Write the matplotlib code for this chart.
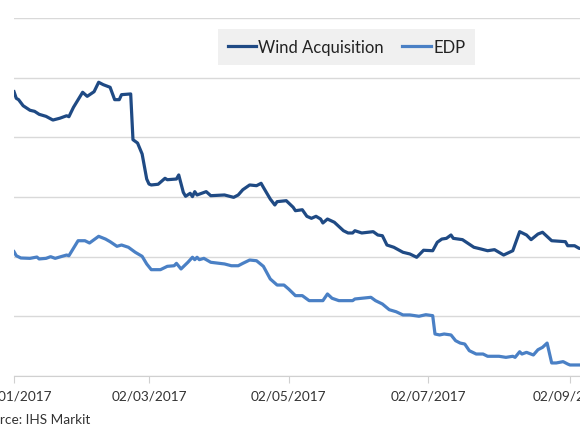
import pandas as pd
import numpy as np
import matplotlib.pyplot as plt
import matplotlib.dates as mdates

# days since 02/01/2017 (y scale arbitrary, labels cropped)
start = pd.Timestamp('2017-01-02')

wind_days = [0, 1, 2, 4, 7, 9, 11, 14, 17, 20, 23, 24, 26, 30, 32, 35, 37, 39, 42, 44,
             46, 47, 51, 52, 54, 56, 58, 59, 60, 63, 66, 67, 71, 72, 74, 75, 77, 78, 79, 80,
             84, 86, 92, 96, 98, 100, 103, 106, 108, 109, 112, 114, 115, 119, 122, 123, 126, 128, 130, 132,
             134, 135, 137, 140, 144, 146, 148, 149, 152, 157, 159, 161, 163, 166, 170, 173, 176, 179, 183, 185,
             187, 189, 191, 192, 196, 201, 204, 207, 210, 214, 218, 221, 224, 226, 229, 231, 235, 241, 242, 245,
             247, 252]
wind_vals = [103.84, 103.28, 103.17, 102.66, 102.28, 102.19, 101.94, 101.77, 101.46, 101.61,
             101.82, 101.74, 102.53, 103.79, 103.45, 103.84, 104.63, 104.43, 104.21, 103.17,
             103.17, 103.59, 103.65, 99.81, 99.53, 98.61, 96.51, 96.09, 96.01, 96.07,
             96.57, 96.45, 96.51, 96.85, 95.39, 95.06, 95.31, 95.03, 95.45, 95.17,
             95.45, 95.11, 95.17, 94.97, 95.17, 95.61, 96.01, 95.95, 96.15, 95.81,
             94.83, 94.33, 94.61, 94.69, 94.14, 93.85, 93.93, 93.38, 93.21, 93.38,
             93.15, 92.82, 93.15, 92.88, 92.17, 91.98, 91.98, 92.17, 91.98, 92.09,
             91.81, 91.75, 90.97, 90.78, 90.36, 90.22, 89.94, 90.53, 90.49, 91.20,
             91.47, 91.53, 91.81, 91.53, 91.42, 90.78, 90.64, 90.49, 90.58, 90.13,
             90.49, 92.09, 91.81, 91.42, 91.89, 92.04, 91.33, 91.25, 90.91, 90.91,
             90.69, 90.60]

edp_days = [0, 1, 3, 7, 10, 11, 14, 16, 18, 21, 23, 24, 28, 31, 33, 37, 40, 42, 45, 47,
            50, 53, 56, 58, 60, 64, 67, 70, 71, 73, 76, 78, 79, 80, 81, 83, 86, 92, 95, 98,
            100, 103, 106, 109, 112, 115, 118, 120, 123, 126, 129, 135, 137, 139, 142, 148, 149, 156, 158, 161,
            164, 167, 170, 173, 177, 180, 183, 184, 186, 188, 191, 193, 195, 197, 199, 202, 205, 207, 212, 215,
            218, 219, 221, 222, 224, 227, 229, 231, 233, 235, 237, 240, 242, 243, 247, 252]
edp_vals = [90.41, 90.07, 89.88, 89.85, 89.96, 89.80, 89.85, 89.99, 89.85, 90.02,
            90.13, 90.07, 91.33, 91.33, 91.14, 91.70, 91.47, 91.25, 90.86, 90.97,
            90.78, 90.36, 90.02, 89.38, 88.90, 88.90, 89.18, 89.23, 89.43, 88.96,
            89.52, 89.94, 89.74, 89.94, 89.74, 89.85, 89.52, 89.38, 89.23, 89.23,
            89.43, 89.71, 89.65, 89.18, 88.12, 87.61, 87.61, 87.28, 86.72, 86.72,
            86.30, 86.30, 86.86, 86.50, 86.30, 86.30, 86.44, 86.58, 86.30, 86.02,
            85.54, 85.37, 85.10, 85.10, 84.99, 85.12, 85.04, 83.50, 83.42, 83.50,
            83.42, 82.94, 82.74, 82.66, 82.10, 81.82, 81.82, 81.63, 81.63, 81.54,
            81.63, 81.54, 82.01, 81.82, 81.96, 81.74, 82.18, 82.38, 82.74, 81.07,
            81.07, 81.18, 80.98, 80.90, 80.90, 80.90]

xtick_dates = ['2017-01-02', '2017-03-02', '2017-05-02', '2017-07-02', '2017-09-02']

wind_dates = start + pd.to_timedelta(wind_days, unit='D')
edp_dates = start + pd.to_timedelta(edp_days, unit='D')

plt.rcParams['font.family'] = ['Lato', 'DejaVu Sans']

fig = plt.figure(figsize=(5.8, 4.35), dpi=100)
# the reference is a crop: left edge of plot at x=14px, right side runs off the image
px_per_day = 2.288
width_px = 640
ax = fig.add_axes([14 / 580, 1 - 376.7 / 435, width_px / 580, (376.7 - 19.3) / 435])

ax.plot(wind_dates, wind_vals, color='#1f4a84', lw=2.3, label='Wind Acquisition')
ax.plot(edp_dates, edp_vals, color='#4a80c5', lw=2.3, label='EDP')

ax.set_xticks(pd.to_datetime(xtick_dates))
ax.xaxis.set_major_formatter(mdates.DateFormatter('%d/%m/%Y'))
ax.set_xlim(start, start + pd.Timedelta(days=width_px / px_per_day))
ax.set_ylim(80, 110)
ax.set_yticks(np.arange(80, 111, 5))
ax.set_yticklabels([])
ax.tick_params(axis='y', length=0)
ax.grid(axis='y', color='#d9d9d9', lw=1)
ax.set_axisbelow(True)

ax.tick_params(axis='x', length=5, color='#d0d0d0', labelsize=9.8, labelcolor='#333333', pad=5)

for s in ['top', 'right', 'left']:
    ax.spines[s].set_visible(False)
ax.spines['bottom'].set_color('#d0d0d0')

leg = ax.legend(loc='center', bbox_to_anchor=(346.5 / 580, 1 - 48 / 435),
                bbox_transform=fig.transFigure, ncol=2, frameon=True, fancybox=False,
                fontsize=12, handlelength=1.7, handletextpad=0.15, columnspacing=1.1,
                borderpad=0.6)
leg.get_frame().set_facecolor('#f0f0f0')
leg.get_frame().set_edgecolor('none')
leg.get_frame().set_alpha(1)
for t in leg.get_texts():
    t.set_color('#222222')

fig.text(-23 / 580, 1 - 420 / 435, 'Source: IHS Markit', fontsize=9.8, color='#333333',
         ha='left', va='center')

fig.savefig('out.png', dpi=100)
